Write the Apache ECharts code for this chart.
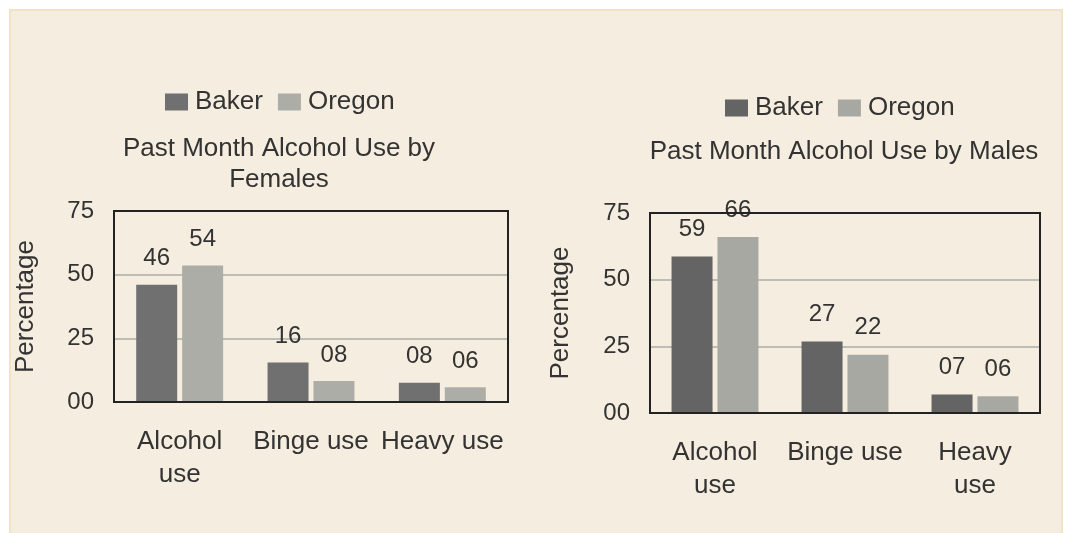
<!DOCTYPE html>
<html>
<head>
<meta charset="utf-8">
<script src="https://cdn.jsdelivr.net/npm/echarts@6/dist/echarts.min.js"></script>
<style>
html,body{margin:0;padding:0;background:#ffffff;width:1070px;height:533px;overflow:hidden;}
#panel{position:absolute;left:9px;top:9px;width:1054px;height:530px;background:#f5eddf;border:2px solid #efe2c6;box-sizing:border-box;}
#left{position:absolute;left:0;top:0;width:535px;height:533px;}
#right{position:absolute;left:535px;top:0;width:535px;height:533px;}
</style>
</head>
<body>
<div id="panel"></div>
<div id="left"></div>
<div id="right"></div>
<script>
// Data
const seriesNames = ['Baker', 'Oregon'];
const femaleCategories = ['Alcohol\nuse', 'Binge use', 'Heavy use'];
const maleCategories = ['Alcohol\nuse', 'Binge use', 'Heavy\nuse'];
const femaleBaker = [46, 15.5, 7.6];
const femaleOregon = [53.6, 8.2, 5.8];
const maleBaker = [58.7, 26.8, 6.9];
const maleOregon = [66, 21.8, 6.3];
const yTicks = [0, 25, 50, 75];
const femaleTitle = 'Past Month Alcohol Use by\nFemales';
const maleTitle = 'Past Month Alcohol Use by Males';

const FONT = 'Liberation Sans, Arial, sans-serif';
const pad2 = v => String(Math.round(v)).padStart(2, '0');

function makeOption(cfg) {
  return {
    animation: false,
    textStyle: { fontFamily: FONT },
    title: {
      text: cfg.title,
      left: cfg.titleX,
      top: cfg.titleTop,
      textAlign: 'center',
      textStyle: { fontFamily: FONT, fontSize: 26, fontWeight: 'normal', color: '#333333', lineHeight: 30.5 }
    },
    legend: {
      data: seriesNames,
      left: cfg.legendLeft,
      top: cfg.legendTop,
      padding: 0,
      itemWidth: 23,
      itemHeight: 17,
      itemGap: 15,
      icon: 'rect',
      textStyle: { fontFamily: FONT, fontSize: 26, color: '#333333', lineHeight: 24, padding: [0, 0, 0, 2] }
    },
    grid: {
      show: true,
      z: 10,
      left: cfg.grid.left, top: cfg.grid.top, width: cfg.grid.width, height: cfg.grid.height,
      borderColor: '#222222', borderWidth: 2, backgroundColor: 'transparent'
    },
    xAxis: {
      type: 'category',
      data: cfg.categories,
      axisLine: { show: true, lineStyle: { color: '#222222', width: 2 } },
      axisTick: { show: false },
      axisLabel: { fontFamily: FONT, fontSize: 26, color: '#333333', margin: cfg.xMargin, lineHeight: 33, interval: 0 }
    },
    yAxis: {
      type: 'value',
      min: yTicks[0], max: yTicks[yTicks.length - 1], interval: yTicks[1] - yTicks[0],
      name: 'Percentage',
      nameLocation: 'middle',
      nameRotate: 90,
      nameGap: cfg.nameGap,
      nameTextStyle: { fontFamily: FONT, fontSize: 26, color: '#333333' },
      axisLine: { show: false },
      axisTick: { show: false },
      axisLabel: { fontFamily: FONT, fontSize: 24, color: '#333333', margin: 20, formatter: v => pad2(v) },
      splitLine: { show: true, lineStyle: { color: '#bdbdb7', width: 2 } }
    },
    series: [
      {
        name: seriesNames[0], type: 'bar', data: cfg.baker,
        barWidth: 41, barGap: '12%',
        itemStyle: { color: cfg.bakerColor },
        label: { show: true, position: 'top', distance: cfg.labelDist, fontFamily: FONT, fontSize: 24, color: '#333333', formatter: p => pad2(p.value) }
      },
      {
        name: seriesNames[1], type: 'bar', data: cfg.oregon,
        barWidth: 41, barGap: '12%',
        itemStyle: { color: cfg.oregonColor },
        label: { show: true, position: 'top', distance: cfg.labelDist, fontFamily: FONT, fontSize: 24, color: '#333333', formatter: p => pad2(p.value) }
      }
    ]
  };
}

const leftChart = echarts.init(document.getElementById('left'), null, { renderer: 'canvas' });
leftChart.setOption(makeOption({
  title: femaleTitle, titleX: 274, titleTop: 129,
  legendLeft: 165, legendTop: 89,
  grid: { left: 114, top: 211, width: 394, height: 191 },
  categories: femaleCategories,
  xMargin: 23,
  nameGap: 75,
  baker: femaleBaker, oregon: femaleOregon,
  bakerColor: '#707070', oregonColor: '#adada8',
  labelDist: 14
}));

const rightChart = echarts.init(document.getElementById('right'), null, { renderer: 'canvas' });
rightChart.setOption(makeOption({
  title: maleTitle, titleX: 304, titleTop: 132,
  legendLeft: 190, legendTop: 95,
  grid: { left: 115, top: 213, width: 390, height: 200 },
  categories: maleCategories,
  xMargin: 23,
  nameGap: 76,
  baker: maleBaker, oregon: maleOregon,
  bakerColor: '#646464', oregonColor: '#a8a8a3',
  labelDist: 15
}));
</script>
</body>
</html>
